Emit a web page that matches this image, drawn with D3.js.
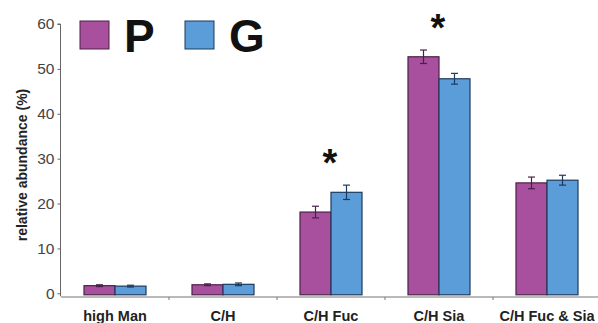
<!DOCTYPE html>
<html><head><meta charset="utf-8">
<script src="https://cdn.jsdelivr.net/npm/d3@7"></script>
<style>body{margin:0;background:#fff}svg{display:block}</style>
</head><body>
<svg id="c" width="598" height="323"></svg>
<script>
const categories = ["high Man", "C/H", "C/H Fuc", "C/H Sia", "C/H Fuc & Sia"];
const seriesNames = ["P", "G"];
const valuesP = [1.7, 1.9, 18.1, 52.7, 24.6];
const errorsP = [0.2, 0.2, 1.3, 1.5, 1.3];
const valuesG = [1.6, 2.0, 22.5, 47.8, 25.2];
const errorsG = [0.2, 0.3, 1.6, 1.2, 1.1];
const significant = ["C/H Fuc", "C/H Sia"];
const yTicks = [0, 10, 20, 30, 40, 50, 60];

const fills = {P: "#a8509e", G: "#5b9dd8"};
const strokes = {P: "#4a2146", G: "#1d3a5c"};

const svg = d3.select("#c");
const x = d3.scaleBand().domain(categories).range([61, 601]);
const y = d3.scaleLinear().domain([0, 60]).range([293.3, 24]);
const barW = 31;
const xs = d3.scaleBand().domain(seriesNames).range([0, barW * 2]);

const data = categories.map((c, i) => ({c, P: valuesP[i], G: valuesG[i], eP: errorsP[i], eG: errorsG[i]}));

// y axis
const yAxis = svg.append("g").attr("transform", "translate(60.5,0)")
  .call(d3.axisLeft(y).tickValues(yTicks).tickSize(3).tickPadding(3));
yAxis.select(".domain").attr("stroke", "#666").attr("d", `M-3,${y(60)}H0V${y(0)+3}`);
yAxis.selectAll(".tick line").attr("stroke", "#666");
yAxis.selectAll("text").attr("font-family", "Liberation Sans, Arial, sans-serif")
  .attr("font-size", 15.5).attr("fill", "#444");

// x axis
const xAxisY = 297;
const xa = svg.append("g").attr("transform", `translate(0,${xAxisY})`);
xa.append("line").attr("x1", 61).attr("x2", 598).attr("y1", 0).attr("y2", 0)
  .attr("stroke", "#777").attr("stroke-width", 1.2);
xa.selectAll("line.t").data(categories.slice(1)).join("line").attr("class", "t")
  .attr("x1", d => x(d)).attr("x2", d => x(d)).attr("y1", 0).attr("y2", 3)
  .attr("stroke", "#777");
xa.selectAll("text").data(categories).join("text")
  .attr("x", d => x(d) + x.bandwidth() / 2).attr("y", 24)
  .attr("text-anchor", "middle")
  .attr("font-family", "Liberation Sans, Arial, sans-serif")
  .attr("font-weight", "bold").attr("font-size", 14.5).attr("fill", "#222")
  .text(d => d);

// y label
svg.append("text")
  .attr("transform", "translate(27,165) rotate(-90)")
  .attr("text-anchor", "middle")
  .attr("font-family", "Liberation Sans, Arial, sans-serif")
  .attr("font-weight", "bold").attr("font-size", 14).attr("fill", "#222")
  .text("relative abundance (%)");

// bars
const groups = svg.selectAll("g.grp").data(data).join("g").attr("class", "grp")
  .attr("transform", d => `translate(${x(d.c) + x.bandwidth() / 2 - barW},0)`);
seriesNames.forEach(s => {
  groups.append("rect")
    .attr("x", xs(s)).attr("width", barW)
    .attr("y", d => y(d[s])).attr("height", d => y(0) + 1.5 - y(d[s]))
    .attr("fill", fills[s]).attr("stroke", strokes[s]).attr("stroke-width", 1.2);
  const eb = groups.append("g").attr("stroke", strokes[s]).attr("stroke-width", 1.2);
  const cx = xs(s) + barW / 2;
  eb.append("line").attr("x1", cx).attr("x2", cx)
    .attr("y1", d => y(d[s] + d["e" + s])).attr("y2", d => y(d[s] - d["e" + s]));
  eb.append("line").attr("x1", cx - 3.5).attr("x2", cx + 3.5)
    .attr("y1", d => y(d[s] + d["e" + s])).attr("y2", d => y(d[s] + d["e" + s]));
  eb.append("line").attr("x1", cx - 3.5).attr("x2", cx + 3.5)
    .attr("y1", d => y(d[s] - d["e" + s])).attr("y2", d => y(d[s] - d["e" + s]));
});

// significance asterisks
svg.selectAll("text.sig").data(data.filter(d => significant.includes(d.c))).join("text")
  .attr("class", "sig")
  .attr("x", d => x(d.c) + x.bandwidth() / 2 - 1)
  .attr("y", d => y(Math.max(d.P + d.eP, d.G + d.eG)) - 9)
  .attr("text-anchor", "middle")
  .attr("font-family", "Liberation Sans, Arial, sans-serif")
  .attr("font-weight", "bold").attr("font-size", 38).attr("fill", "#111")
  .text("*");

// legend
const legX = {P: 80, G: 185};
seriesNames.forEach(s => {
  svg.append("rect").attr("x", legX[s]).attr("y", 21).attr("width", 29).attr("height", 28)
    .attr("fill", fills[s]).attr("stroke", strokes[s]).attr("stroke-width", 1);
  svg.append("text").attr("x", legX[s] + 44).attr("y", 52)
    .attr("font-family", "Liberation Sans, Arial, sans-serif")
    .attr("font-weight", "bold").attr("font-size", 46).attr("fill", "#111")
    .text(s);
});
</script>
</body></html>
